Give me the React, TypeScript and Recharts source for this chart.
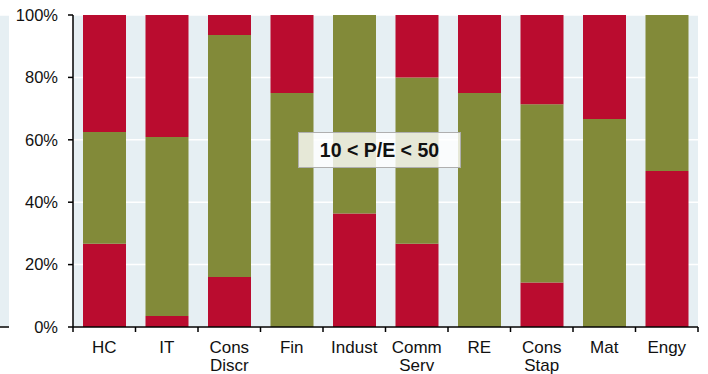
import React from "react";
import { BarChart, Bar, XAxis, YAxis, CartesianGrid } from "recharts";

const categories = ["HC", "IT", "Cons Discr", "Fin", "Indust", "Comm Serv", "RE", "Cons Stap", "Mat", "Engy"];
const lowShare = [26.7, 3.5, 16.0, 0, 36.4, 26.7, 0, 14.3, 0, 50];
const midShare = [35.8, 57.4, 77.6, 75, 63.6, 53.3, 75, 57.1, 66.7, 50];
const highShare = [37.5, 39.1, 6.4, 25, 0, 20, 25, 28.6, 33.3, 0];
const yTicks = [0, 20, 40, 60, 80, 100];
const positionTicks = [0, 0.5, 1, 1.5, 2, 2.5, 3, 3.5, 4, 4.5, 5, 5.5, 6, 6.5, 7, 7.5, 8, 8.5, 9, 9.5, 10];

const data = categories.map((c, i) => ({
  name: c,
  idx: i + 0.5,
  low: lowShare[i],
  mid: midShare[i],
  high: highShare[i],
}));

const RED = "#BA0C2F";
const OLIVE = "#828A39";
const BG = "#E6EFF3";
const FONT = "'Liberation Sans', Arial, sans-serif";

const XTick = (props: any) => {
  const { x, y, payload } = props;
  const v = Number(payload.value);
  if (Number.isInteger(v)) {
    return <line x1={x} x2={x} y1={y} y2={y + 5} stroke="#000" strokeWidth={1.5} />;
  }
  const label = categories[Math.floor(v)] || "";
  const words = label.split(" ");
  return (
    <text x={x} y={y + 26} textAnchor="middle" fontFamily={FONT} fontSize={17} fill="#111">
      {words.map((w: string, i: number) => (
        <tspan key={i} x={x} dy={i === 0 ? 0 : 18.4}>
          {w}
        </tspan>
      ))}
    </text>
  );
};

export default function App() {
  return (
    <div style={{ position: "absolute", left: 0, top: 0, width: 708, height: 374, background: "#fff" }}>
      <BarChart
        width={708}
        height={374}
        data={data}
        margin={{ top: 15, right: 10, left: 0, bottom: 0 }}
        barCategoryGap="16%"
      >
        <CartesianGrid fill={BG} stroke="#fff" strokeWidth={1.5} vertical={false} />
        <YAxis
          domain={[0, 100]}
          ticks={yTicks}
          width={73}
          tickFormatter={(v: number) => `${v}%`}
          tick={{ fontFamily: FONT, fontSize: 16.5, fill: "#111" }}
          tickSize={5}
          tickMargin={10}
          stroke="#000"
          axisLine={{ stroke: "#000", strokeWidth: 1.5 }}
          tickLine={{ stroke: "#000", strokeWidth: 1.5 }}
        />
        <XAxis
          xAxisId="b"
          type="number"
          dataKey="idx"
          domain={[0, 10]}
          ticks={positionTicks}
          interval={0}
          tick={<XTick />}
          tickSize={0}
          tickMargin={0}
          tickLine={false}
          axisLine={{ stroke: "#000", strokeWidth: 1.5 }}
          height={47}
        />
        <XAxis dataKey="name" hide height={0} />
        <Bar dataKey="low" stackId="s" fill={RED} isAnimationActive={false} />
        <Bar dataKey="mid" stackId="s" fill={OLIVE} isAnimationActive={false} />
        <Bar dataKey="high" stackId="s" fill={RED} isAnimationActive={false} />
      </BarChart>
      <div style={{ position: "absolute", left: 0, top: 0 }}>
        <BarChart width={12} height={374} data={[{ v: 0.5 }]} margin={{ top: 15, right: 3, left: 0, bottom: 0 }}>
          <CartesianGrid fill={BG} stroke="#fff" strokeWidth={1.5} vertical={false} />
          <YAxis hide domain={[0, 100]} ticks={yTicks} />
          <XAxis
            type="number"
            dataKey="v"
            domain={[0, 1]}
            ticks={[1]}
            tick={false}
            height={47}
            tickSize={5}
            axisLine={{ stroke: "#000", strokeWidth: 1.5 }}
            tickLine={{ stroke: "#000", strokeWidth: 1.5 }}
          />
        </BarChart>
      </div>
      <div
        style={{
          position: "absolute",
          left: 298,
          top: 132,
          width: 161,
          height: 34,
          border: "1px solid #AFAFAF",
          background: "rgba(255,255,255,0.8)",
          display: "flex",
          alignItems: "center",
          justifyContent: "center",
          fontFamily: FONT,
          fontWeight: "bold",
          fontSize: 19.5,
          color: "#111",
        }}
      >
        10 &lt; P/E &lt; 50
      </div>
    </div>
  );
}
